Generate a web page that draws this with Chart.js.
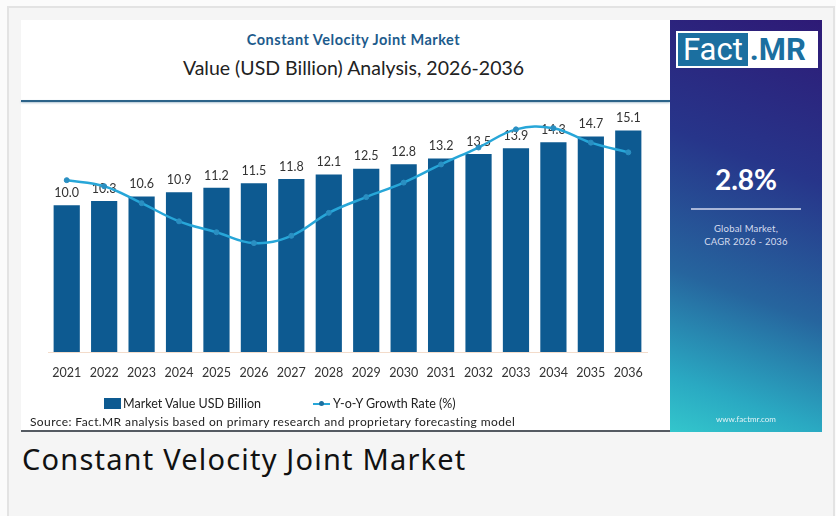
<!DOCTYPE html>
<html>
<head>
<meta charset="utf-8">
<script src="https://cdn.jsdelivr.net/npm/chart.js@4.4.1/dist/chart.umd.min.js"></script>
<style>
    body { margin: 0; width: 836px; height: 516px; background: #fbfbfb; font-family: "Lato", "Noto Sans", sans-serif; overflow: hidden; position: relative; }
    .frame { position: absolute; left: 7px; top: 6px; width: 824px; height: 520px; background: #f5f5f5; border: 2px solid #e3e3e3; }
    .card { position: absolute; left: 21px; top: 20px; width: 649px; height: 410px; background: #fff; border-bottom: 2px solid #555b62; }
    .titulo { position: absolute; left: 8px; width: 100%; top: 11px; text-align: center; font-weight: 700; font-size: 14.5px; letter-spacing: 0.5px; color: #1d5b8c; }
    .subtitulo { position: absolute; left: 8px; width: 100%; top: 36px; text-align: center; font-size: 19.5px; color: #222; }
    .linha-topo { position: absolute; left: 0; top: 80px; width: 649px; height: 2px; background: #2c6389; box-shadow: 0 1px 2px rgba(44,99,137,0.4); }
    .chart-box { position: absolute; left: 0; top: 85px; width: 649px; height: 294px; }
    .legenda { position: absolute; top: 376px; left: 0; font-size: 12.5px; color: #222; }
    .legenda .item { position: absolute; white-space: nowrap; display: flex; align-items: center; }
    .legenda .box { width: 17px; height: 11px; background: #0d5a91; margin-right: 2px; }
    .legenda .lin { width: 17px; height: 2px; background: #27a6d8; position: relative; margin-right: 3px; }
    .legenda .lin::after { content: ""; position: absolute; left: 6px; top: -2px; width: 5px; height: 5px; border-radius: 50%; background: #1b6fa0; }
    .fonte { position: absolute; left: 9px; top: 394px; font-size: 12px; letter-spacing: 0.4px; color: #222; white-space: nowrap; }
    .painel { position: absolute; left: 670px; top: 20px; width: 152px; height: 412px; background: linear-gradient(200deg, #2e1a76 0%, #27358a 35%, #26659e 65%, #2aa9c2 88%, #33c6cc 100%); color: #fff; text-align: center; }
    .logo { position: absolute; left: 6px; top: 11px; width: 142px; height: 37px; background: #fff; display: flex; align-items: center; font-family: "Liberation Sans Narrow", "Roboto", sans-serif; font-size: 31px; }
    .logo .fact { background: #1b6fa0; color: #fff; padding: 0 5px; margin: 2px; height: 33px; line-height: 33px; }
    .logo .mr { color: #1b6fa0; font-weight: 700; }
    .cagr { position: absolute; top: 142px; width: 100%; font-size: 28px; font-weight: 700; }
    .sep { position: absolute; top: 188px; left: 21px; width: 110px; height: 2px; background: #a9b6d8; }
    .cagr-txt { position: absolute; top: 202px; width: 100%; font-size: 9.5px; line-height: 13px; letter-spacing: 0.2px; color: #d6dcef; }
    .site { position: absolute; top: 394px; width: 100%; font-size: 8px; color: #e3f3f6; }
    .legenda-baixo { position: absolute; left: 22px; top: 439px; font-family: "Noto Sans", sans-serif; font-size: 29px; letter-spacing: 1.2px; color: #111; }
</style>
</head>
<body>
<div class="frame"></div>
<div class="card">
    <div class="titulo">Constant Velocity Joint Market</div>
    <div class="subtitulo">Value (USD Billion) Analysis, 2026-2036</div>
    <div class="linha-topo"></div>
    <div class="chart-box"><canvas id="cvjChart" width="649" height="294"></canvas></div>
    <div class="legenda">
        <div class="item" style="left: 83px;"><span class="box"></span>Market Value USD Billion</div>
        <div class="item" style="left: 292px;"><span class="lin"></span>Y-o-Y Growth Rate (%)</div>
    </div>
    <div class="fonte">Source: Fact.MR analysis based on primary research and proprietary forecasting model</div>
</div>
<div class="painel">
    <div class="logo"><span class="fact">Fact</span><span class="mr">.MR</span></div>
    <div class="cagr">2.8%</div>
    <div class="sep"></div>
    <div class="cagr-txt">Global Market,<br>CAGR 2026 - 2036</div>
    <div class="site">www.factmr.com</div>
</div>
<div class="legenda-baixo">Constant Velocity Joint Market</div>

<script>
// ============================================================================
// CONSTANT VELOCITY JOINT MARKET - DADOS
// ============================================================================

const anos = ["2021", "2022", "2023", "2024", "2025", "2026", "2027", "2028", "2029", "2030", "2031", "2032", "2033", "2034", "2035", "2036"];
const valorMercado = [10.0, 10.3, 10.6, 10.9, 11.2, 11.5, 11.8, 12.1, 12.5, 12.8, 13.2, 13.5, 13.9, 14.3, 14.7, 15.1];
// taxa estimada a partir da curva (sem eixo visível)
const taxaCrescimento = [2.92, 2.87, 2.73, 2.58, 2.49, 2.40, 2.46, 2.65, 2.78, 2.90, 3.05, 3.19, 3.34, 3.35, 3.23, 3.15];

// Rótulos de valor acima das barras, desenhados antes da linha
const rotulosBarras = {
    id: "rotulosBarras",
    afterDatasetDraw(chart, args) {
        if (args.meta.type !== "bar") return;
        const ctx = chart.ctx;
        ctx.save();
        ctx.font = "12.5px Lato, 'Noto Sans', sans-serif";
        ctx.fillStyle = "#333";
        ctx.textAlign = "center";
        ctx.textBaseline = "bottom";
        args.meta.data.forEach((bar, i) => {
            ctx.fillText(valorMercado[i].toFixed(1), bar.x, bar.y - 6);
        });
        ctx.restore();
    }
};

const ctx = document.getElementById("cvjChart").getContext("2d");
new Chart(ctx, {
    type: "bar",
    data: {
        labels: anos,
        datasets: [
            {
                type: "line",
                label: "Y-o-Y Growth Rate (%)",
                data: taxaCrescimento,
                yAxisID: "y2",
                borderColor: "#27a6d8",
                borderWidth: 2.5,
                tension: 0.4,
                pointRadius: 2.5,
                pointBackgroundColor: "#2a8fc2",
                pointBorderColor: "#2a8fc2",
                pointBorderWidth: 1
            },
            {
                label: "Market Value USD Billion",
                data: valorMercado,
                yAxisID: "y",
                backgroundColor: "#0d5a91",
                barPercentage: 0.7,
                categoryPercentage: 1.0
            }
        ]
    },
    options: {
        responsive: false,
        animation: false,
        layout: { padding: { top: 5, left: 27, right: 23, bottom: 6 } },
        plugins: { legend: { display: false }, tooltip: { enabled: false } },
        scales: {
            x: {
                grid: { display: false, drawTicks: false },
                border: { display: true, color: "#f3dccb" },
                ticks: { color: "#333", padding: 13, font: { size: 12.5, family: "Lato, 'Noto Sans', sans-serif" } }
            },
            y: { display: false, min: 0, max: 16.5 },
            y2: { display: false, min: 1.5, max: 3.5 }
        }
    },
    plugins: [rotulosBarras]
});
</script>
</body>
</html>
